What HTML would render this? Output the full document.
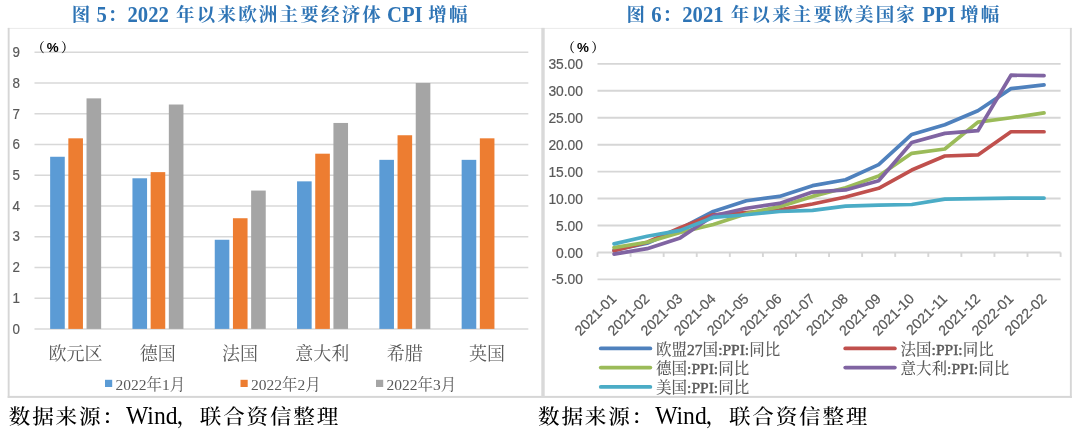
<!DOCTYPE html>
<html lang="zh-CN">
<head>
<meta charset="utf-8">
<title>图 5 / 图 6</title>
<style>
html,body{margin:0;padding:0;background:#fff;}
body{width:1080px;height:434px;overflow:hidden;position:relative;}
svg{position:absolute;left:0;top:0;display:block;}
.sans{font-family:"Liberation Sans", "Noto Sans CJK SC", sans-serif;}
.serif{font-family:"Liberation Serif", "Noto Serif CJK SC", serif;}
.title{font-family:"Liberation Serif", "Noto Serif CJK SC", serif;font-weight:700;fill:#2E74B5;}
.foot{font-family:"Liberation Serif", "Noto Serif CJK SC", serif;font-weight:500;fill:#000;}
.footl{font-family:"Liberation Serif", "Noto Serif CJK SC", serif;font-weight:400;fill:#000;}
.ax{font-family:"Liberation Sans", "Noto Sans CJK SC", sans-serif;font-size:14.2px;fill:#595959;stroke:#595959;stroke-width:0.2px;}
.cat{font-family:"Liberation Serif", "Noto Serif CJK SC", serif;font-size:18px;fill:#595959;}
.leg{font-family:"Liberation Serif", "Noto Serif CJK SC", serif;font-size:15.5px;fill:#595959;}
.lb{font-weight:400;stroke:#595959;stroke-width:0.45px;}
.lc{font-weight:500;}
.pct{fill:#000;}
.pp{font-family:"Liberation Serif", "Noto Serif CJK SC", serif;font-size:13px;font-weight:600;}
.pb{font-family:"Liberation Sans", "Noto Sans CJK SC", sans-serif;font-size:13.4px;font-weight:700;}
</style>
</head>
<body>
<svg width="1080" height="434" viewBox="0 0 1080 434">
<rect x="0" y="0" width="1080" height="434" fill="#ffffff"/>

<g>
<rect x="7.8" y="27.9" width="1064" height="1.1" fill="#ECECEC"/>
<rect x="7.7" y="27.9" width="1.9" height="370" fill="#D6D6D6"/>
<rect x="7.7" y="395.9" width="1064.1" height="2" fill="#D6D6D6"/>
<rect x="1069.9" y="27.9" width="1.9" height="370" fill="#D6D6D6"/>
<rect x="541.3" y="27.9" width="3.4" height="369" fill="#D9D9D9"/>
</g>
<text class="title" xml:space="preserve"><tspan x="71.85 83.75" y="21.4" font-size="18.5">图 </tspan><tspan x="96.50" y="22.3" font-size="22.77" textLength="10.35" lengthAdjust="spacingAndGlyphs">5</tspan><tspan x="107.85" y="21.4" font-size="18.5">：</tspan><tspan x="127.50" y="22.3" font-size="22.77" textLength="41.40" lengthAdjust="spacingAndGlyphs">2022</tspan><tspan x="163.63 176.05 196.75 217.45 238.15 258.85 279.55 300.25 320.95 341.65 362.35 381.95" y="21.4" font-size="18.5"> 年以来欧洲主要经济体 </tspan><tspan x="386.95" y="22.3" font-size="22.77" textLength="35.65" lengthAdjust="spacingAndGlyphs">CPI</tspan><tspan x="415.93 428.35 449.05" y="21.4" font-size="18.5"> 增幅</tspan></text>
<text class="title" xml:space="preserve"><tspan x="626.55 638.45" y="21.4" font-size="18.5">图 </tspan><tspan x="651.20" y="22.3" font-size="22.77" textLength="10.35" lengthAdjust="spacingAndGlyphs">6</tspan><tspan x="662.55" y="21.4" font-size="18.5">：</tspan><tspan x="682.20" y="22.3" font-size="22.77" textLength="41.40" lengthAdjust="spacingAndGlyphs">2021</tspan><tspan x="718.33 730.75 751.45 772.15 792.85 813.55 834.25 854.95 875.65 896.35 915.95" y="21.4" font-size="18.5"> 年以来主要欧美国家 </tspan><tspan x="922.15" y="22.3" font-size="22.77" textLength="33.35" lengthAdjust="spacingAndGlyphs">PPI</tspan><tspan x="947.73 960.15 980.85" y="21.4" font-size="18.5"> 增幅</tspan></text>
<text class="foot" transform="matrix(1 0 0 0.94 0 25.440)"><tspan x="8.80 32.18 55.56 78.94 102.32" y="424" font-size="21.6">数据来源：</tspan><tspan class="footl" x="126.00" y="424.4255319148936" font-size="27.15" textLength="51.55" lengthAdjust="spacingAndGlyphs">Wind</tspan><tspan x="176.40 199.78 223.16 246.54 269.92 293.30 316.68" y="424" font-size="21.6">，联合资信整理</tspan></text>
<text class="foot" transform="matrix(1 0 0 0.94 0 25.440)"><tspan x="538.00 561.38 584.76 608.14 631.52" y="424" font-size="21.6">数据来源：</tspan><tspan class="footl" x="655.20" y="424.4255319148936" font-size="27.15" textLength="51.55" lengthAdjust="spacingAndGlyphs">Wind</tspan><tspan x="705.60 728.98 752.36 775.74 799.12 822.50 845.88" y="424" font-size="21.6">，联合资信整理</tspan></text>
<g stroke="#D8D8D8" stroke-width="1.5">
<line x1="34.5" y1="328.90" x2="528.3" y2="328.90"/>
<line x1="34.5" y1="298.16" x2="528.3" y2="298.16"/>
<line x1="34.5" y1="267.42" x2="528.3" y2="267.42"/>
<line x1="34.5" y1="236.68" x2="528.3" y2="236.68"/>
<line x1="34.5" y1="205.94" x2="528.3" y2="205.94"/>
<line x1="34.5" y1="175.21" x2="528.3" y2="175.21"/>
<line x1="34.5" y1="144.47" x2="528.3" y2="144.47"/>
<line x1="34.5" y1="113.73" x2="528.3" y2="113.73"/>
<line x1="34.5" y1="82.99" x2="528.3" y2="82.99"/>
<line x1="34.5" y1="52.25" x2="528.3" y2="52.25"/>
</g>
<text class="ax" text-anchor="end" transform="translate(20.0 333.70) scale(0.94 1.06)">0</text>
<text class="ax" text-anchor="end" transform="translate(20.0 302.96) scale(0.94 1.06)">1</text>
<text class="ax" text-anchor="end" transform="translate(20.0 272.22) scale(0.94 1.06)">2</text>
<text class="ax" text-anchor="end" transform="translate(20.0 241.48) scale(0.94 1.06)">3</text>
<text class="ax" text-anchor="end" transform="translate(20.0 210.74) scale(0.94 1.06)">4</text>
<text class="ax" text-anchor="end" transform="translate(20.0 180.01) scale(0.94 1.06)">5</text>
<text class="ax" text-anchor="end" transform="translate(20.0 149.27) scale(0.94 1.06)">6</text>
<text class="ax" text-anchor="end" transform="translate(20.0 118.53) scale(0.94 1.06)">7</text>
<text class="ax" text-anchor="end" transform="translate(20.0 87.79) scale(0.94 1.06)">8</text>
<text class="ax" text-anchor="end" transform="translate(20.0 57.05) scale(0.94 1.06)">9</text>
<rect x="50.15" y="156.76" width="14.61" height="172.14" fill="#5B9BD5"/>
<rect x="68.34" y="138.32" width="14.61" height="190.58" fill="#ED7D31"/>
<rect x="86.53" y="98.36" width="14.61" height="230.54" fill="#A5A5A5"/>
<text class="cat" x="75.45" y="359.5" text-anchor="middle">欧元区</text>
<rect x="132.45" y="178.28" width="14.61" height="150.62" fill="#5B9BD5"/>
<rect x="150.64" y="172.13" width="14.61" height="156.77" fill="#ED7D31"/>
<rect x="168.83" y="104.51" width="14.61" height="224.39" fill="#A5A5A5"/>
<text class="cat" x="157.75" y="359.5" text-anchor="middle">德国</text>
<rect x="214.75" y="239.76" width="14.61" height="89.14" fill="#5B9BD5"/>
<rect x="232.94" y="218.24" width="14.61" height="110.66" fill="#ED7D31"/>
<rect x="251.13" y="190.57" width="14.61" height="138.32" fill="#A5A5A5"/>
<text class="cat" x="240.05" y="359.5" text-anchor="middle">法国</text>
<rect x="297.05" y="181.35" width="14.61" height="147.55" fill="#5B9BD5"/>
<rect x="315.24" y="153.69" width="14.61" height="175.21" fill="#ED7D31"/>
<rect x="333.43" y="122.95" width="14.61" height="205.95" fill="#A5A5A5"/>
<text class="cat" x="322.35" y="359.5" text-anchor="middle">意大利</text>
<rect x="379.35" y="159.84" width="14.61" height="169.06" fill="#5B9BD5"/>
<rect x="397.54" y="135.25" width="14.61" height="193.65" fill="#ED7D31"/>
<rect x="415.73" y="82.99" width="14.61" height="245.91" fill="#A5A5A5"/>
<text class="cat" x="404.65" y="359.5" text-anchor="middle">希腊</text>
<rect x="461.65" y="159.84" width="14.61" height="169.06" fill="#5B9BD5"/>
<rect x="479.84" y="138.32" width="14.61" height="190.58" fill="#ED7D31"/>
<text class="cat" x="486.95" y="359.5" text-anchor="middle">英国</text>
<rect x="105" y="379.8" width="7.2" height="7.2" fill="#5B9BD5"/>
<text class="leg" x="115.5" y="389.6">2022年1月</text>
<rect x="240.5" y="379.8" width="7.2" height="7.2" fill="#ED7D31"/>
<text class="leg" x="251.0" y="389.6">2022年2月</text>
<rect x="376" y="379.8" width="7.2" height="7.2" fill="#A5A5A5"/>
<text class="leg" x="386.5" y="389.6">2022年3月</text>
<text class="pct" y="51.6"><tspan class="pp" x="31.80">（</tspan><tspan class="pb" x="46.80" y="52.3">%</tspan><tspan class="pp" x="61.00" y="51.6">）</tspan></text>
<g stroke="#D6D6D6" stroke-width="1.9">
<line x1="597.5" y1="279.39" x2="1060.6" y2="279.39"/>
<line x1="597.5" y1="252.45" x2="1060.6" y2="252.45"/>
<line x1="597.5" y1="225.51" x2="1060.6" y2="225.51"/>
<line x1="597.5" y1="198.57" x2="1060.6" y2="198.57"/>
<line x1="597.5" y1="171.63" x2="1060.6" y2="171.63"/>
<line x1="597.5" y1="144.69" x2="1060.6" y2="144.69"/>
<line x1="597.5" y1="117.75" x2="1060.6" y2="117.75"/>
<line x1="597.5" y1="90.81" x2="1060.6" y2="90.81"/>
<line x1="597.5" y1="63.87" x2="1060.6" y2="63.87"/>
<line x1="597.50" y1="252.45" x2="597.50" y2="256.95"/>
<line x1="630.58" y1="252.45" x2="630.58" y2="256.95"/>
<line x1="663.66" y1="252.45" x2="663.66" y2="256.95"/>
<line x1="696.74" y1="252.45" x2="696.74" y2="256.95"/>
<line x1="729.81" y1="252.45" x2="729.81" y2="256.95"/>
<line x1="762.89" y1="252.45" x2="762.89" y2="256.95"/>
<line x1="795.97" y1="252.45" x2="795.97" y2="256.95"/>
<line x1="829.05" y1="252.45" x2="829.05" y2="256.95"/>
<line x1="862.13" y1="252.45" x2="862.13" y2="256.95"/>
<line x1="895.21" y1="252.45" x2="895.21" y2="256.95"/>
<line x1="928.29" y1="252.45" x2="928.29" y2="256.95"/>
<line x1="961.36" y1="252.45" x2="961.36" y2="256.95"/>
<line x1="994.44" y1="252.45" x2="994.44" y2="256.95"/>
<line x1="1027.52" y1="252.45" x2="1027.52" y2="256.95"/>
<line x1="1060.60" y1="252.45" x2="1060.60" y2="256.95"/>
</g>
<text class="ax" text-anchor="end" transform="translate(583.0 284.49) scale(0.975 1.08)">-5.00</text>
<text class="ax" text-anchor="end" transform="translate(583.0 257.55) scale(0.975 1.08)">0.00</text>
<text class="ax" text-anchor="end" transform="translate(583.0 230.61) scale(0.975 1.08)">5.00</text>
<text class="ax" text-anchor="end" transform="translate(583.0 203.67) scale(0.975 1.08)">10.00</text>
<text class="ax" text-anchor="end" transform="translate(583.0 176.73) scale(0.975 1.08)">15.00</text>
<text class="ax" text-anchor="end" transform="translate(583.0 149.79) scale(0.975 1.08)">20.00</text>
<text class="ax" text-anchor="end" transform="translate(583.0 122.85) scale(0.975 1.08)">25.00</text>
<text class="ax" text-anchor="end" transform="translate(583.0 95.91) scale(0.975 1.08)">30.00</text>
<text class="ax" text-anchor="end" transform="translate(583.0 68.97) scale(0.975 1.08)">35.00</text>
<text class="ax" x="617.29" y="299.6" text-anchor="end" transform="rotate(-45 617.29 299.6)">2021-01</text>
<text class="ax" x="650.37" y="299.6" text-anchor="end" transform="rotate(-45 650.37 299.6)">2021-02</text>
<text class="ax" x="683.45" y="299.6" text-anchor="end" transform="rotate(-45 683.45 299.6)">2021-03</text>
<text class="ax" x="716.52" y="299.6" text-anchor="end" transform="rotate(-45 716.52 299.6)">2021-04</text>
<text class="ax" x="749.60" y="299.6" text-anchor="end" transform="rotate(-45 749.60 299.6)">2021-05</text>
<text class="ax" x="782.68" y="299.6" text-anchor="end" transform="rotate(-45 782.68 299.6)">2021-06</text>
<text class="ax" x="815.76" y="299.6" text-anchor="end" transform="rotate(-45 815.76 299.6)">2021-07</text>
<text class="ax" x="848.84" y="299.6" text-anchor="end" transform="rotate(-45 848.84 299.6)">2021-08</text>
<text class="ax" x="881.92" y="299.6" text-anchor="end" transform="rotate(-45 881.92 299.6)">2021-09</text>
<text class="ax" x="915.00" y="299.6" text-anchor="end" transform="rotate(-45 915.00 299.6)">2021-10</text>
<text class="ax" x="948.07" y="299.6" text-anchor="end" transform="rotate(-45 948.07 299.6)">2021-11</text>
<text class="ax" x="981.15" y="299.6" text-anchor="end" transform="rotate(-45 981.15 299.6)">2021-12</text>
<text class="ax" x="1014.23" y="299.6" text-anchor="end" transform="rotate(-45 1014.23 299.6)">2022-01</text>
<text class="ax" x="1047.31" y="299.6" text-anchor="end" transform="rotate(-45 1047.31 299.6)">2022-02</text>
<g fill="none" stroke-width="3.7" stroke-linejoin="round" stroke-linecap="round">
<polyline points="614.04,250.29 647.12,243.29 680.20,228.74 713.27,211.50 746.35,200.73 779.43,196.41 812.51,185.64 845.59,179.71 878.67,164.63 911.75,134.45 944.82,124.75 977.90,110.75 1010.98,88.65 1044.06,84.88" stroke="#4F81BD"/>
<polyline points="614.04,250.83 647.12,242.21 680.20,227.67 713.27,214.73 746.35,212.58 779.43,209.88 812.51,203.96 845.59,196.95 878.67,188.33 911.75,170.01 944.82,156.00 977.90,154.93 1010.98,131.76 1044.06,131.76" stroke="#C0504D"/>
<polyline points="614.04,247.60 647.12,242.21 680.20,232.51 713.27,224.43 746.35,213.66 779.43,206.65 812.51,196.41 845.59,187.79 878.67,175.94 911.75,153.31 944.82,149.00 977.90,122.06 1010.98,117.75 1044.06,112.90" stroke="#9BBB59"/>
<polyline points="614.04,254.07 647.12,248.68 680.20,237.90 713.27,215.81 746.35,208.27 779.43,203.42 812.51,192.10 845.59,189.95 878.67,180.79 911.75,142.53 944.82,133.38 977.90,130.68 1010.98,75.18 1044.06,75.72" stroke="#8064A2"/>
<polyline points="614.04,243.83 647.12,236.29 680.20,230.36 713.27,217.43 746.35,214.73 779.43,211.50 812.51,210.42 845.59,206.11 878.67,205.04 911.75,204.50 944.82,199.11 977.90,198.57 1010.98,198.03 1044.06,198.03" stroke="#4BACC6"/>
</g>
<line x1="600.8" y1="348.4" x2="650.3" y2="348.4" stroke="#4F81BD" stroke-width="3.9" stroke-linecap="round"/>
<text class="leg" x="656.0999999999999" y="354.5"><tspan class="lc">欧盟</tspan><tspan class="lb">27</tspan><tspan class="lc">国</tspan><tspan class="lb">:PPI:</tspan><tspan class="lc">同比</tspan></text>
<line x1="845.3" y1="348.4" x2="894.8" y2="348.4" stroke="#C0504D" stroke-width="3.9" stroke-linecap="round"/>
<text class="leg" x="900.5999999999999" y="354.5"><tspan class="lc">法国</tspan><tspan class="lb">:PPI:</tspan><tspan class="lc">同比</tspan></text>
<line x1="600.8" y1="367.6" x2="650.3" y2="367.6" stroke="#9BBB59" stroke-width="3.9" stroke-linecap="round"/>
<text class="leg" x="656.0999999999999" y="373.70000000000005"><tspan class="lc">德国</tspan><tspan class="lb">:PPI:</tspan><tspan class="lc">同比</tspan></text>
<line x1="845.3" y1="367.6" x2="894.8" y2="367.6" stroke="#8064A2" stroke-width="3.9" stroke-linecap="round"/>
<text class="leg" x="900.5999999999999" y="373.70000000000005"><tspan class="lc">意大利</tspan><tspan class="lb">:PPI:</tspan><tspan class="lc">同比</tspan></text>
<line x1="600.8" y1="386.9" x2="650.3" y2="386.9" stroke="#4BACC6" stroke-width="3.9" stroke-linecap="round"/>
<text class="leg" x="656.0999999999999" y="393.0"><tspan class="lc">美国</tspan><tspan class="lb">:PPI:</tspan><tspan class="lc">同比</tspan></text>
<text class="pct" y="51.6"><tspan class="pp" x="562.10">（</tspan><tspan class="pb" x="577.10" y="52.3">%</tspan><tspan class="pp" x="591.30" y="51.6">）</tspan></text>
</svg>
</body>
</html>
